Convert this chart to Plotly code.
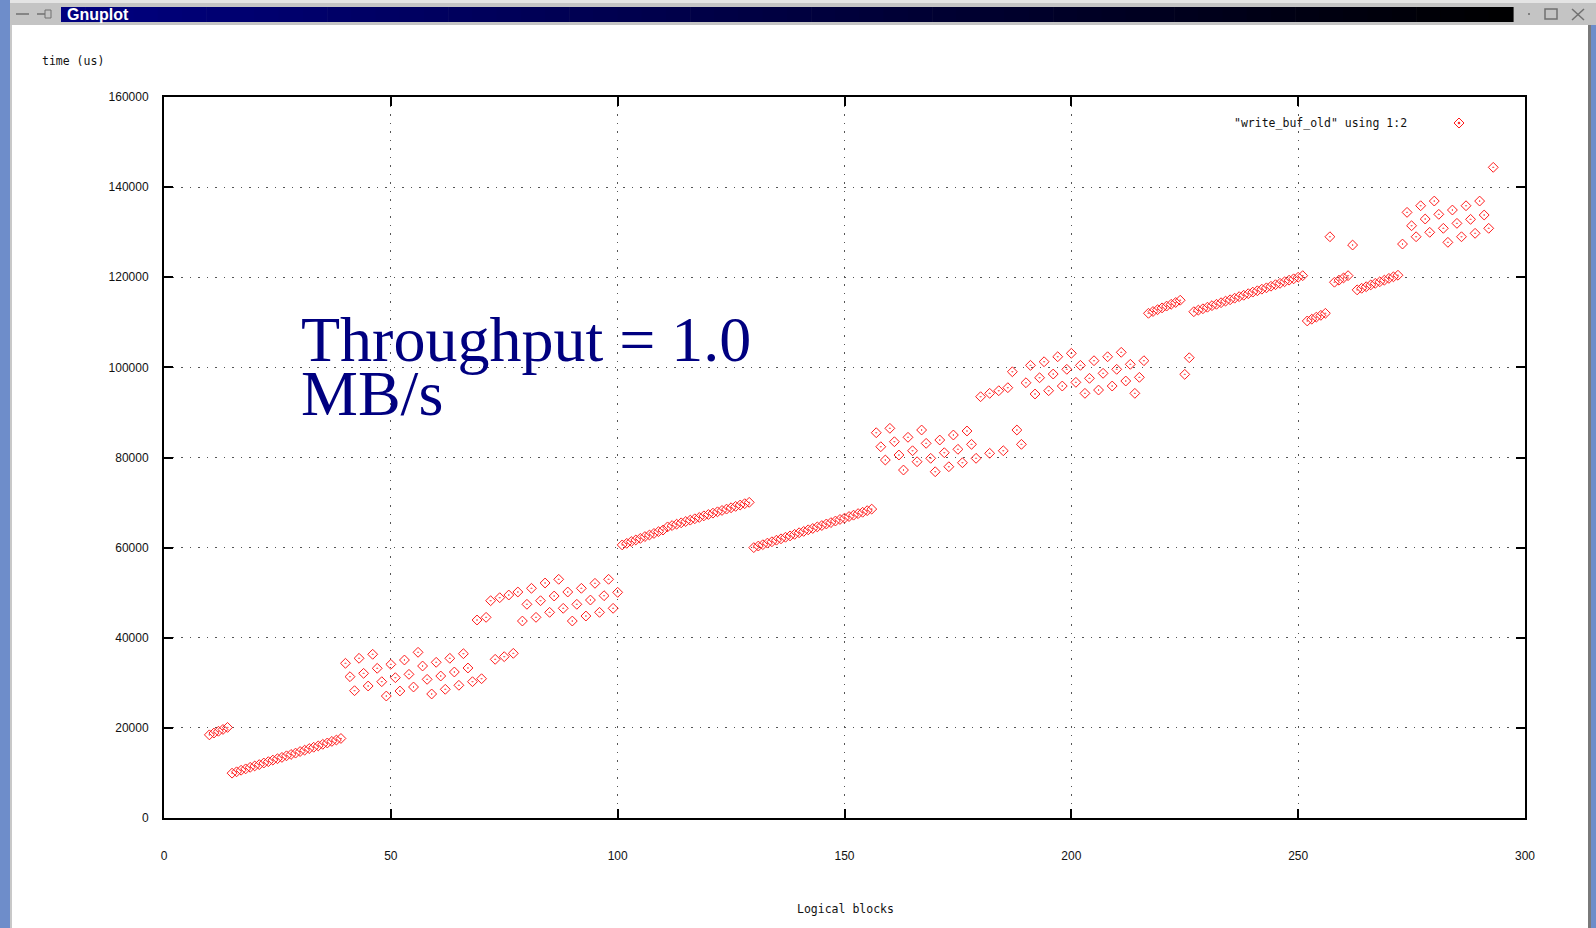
import plotly.graph_objects as go

# ---------------- data ----------------
blocks_a = [10, 11, 12, 13, 14]
time_a = [18450, 18850, 19250, 19650, 20100]

blocks_b = [15, 16, 17, 18, 19, 20, 21, 22, 23, 24, 25, 26, 27, 28, 29, 30, 31, 32, 33, 34, 35, 36, 37, 38, 39]
time_b = [9950, 10250, 10600, 10900, 11250, 11550, 11850, 12200, 12500, 12850, 13150, 13450, 13800, 14100,
          14400, 14750, 15050, 15400, 15700, 16000, 16350, 16650, 17000, 17300, 17650]

blocks_c_low = [40, 43, 46, 50, 53, 56, 60, 63, 66,
                41, 44, 47, 51, 54, 57, 58, 61, 64, 67,
                42, 45, 48, 49, 52, 55, 59, 62, 65, 68, 70,
                73, 75, 77]
time_c_low = [34330, 35440, 36330, 34100, 35060, 36770, 34550, 35440, 36460,
              31360, 32100, 33220, 31140, 31880, 33730, 30770, 31510, 32400, 33290,
              28250, 29290, 30250, 27070, 28180, 29070, 27520, 28560, 29450, 30250, 30910,
              35210, 35800, 36540]

blocks_c_high = [69, 71, 72, 74, 76, 78, 81, 84, 87,
                 80, 83, 86, 89, 92, 95, 98,
                 79, 82, 85, 88, 91, 94, 97, 100,
                 90, 93, 96, 99]
time_c_high = [43940, 44530, 48220, 48890, 49480, 50150, 50970, 52150, 52970,
               47420, 48220, 49260, 50150, 50970, 52080, 52970,
               43710, 44530, 45640, 46530, 47420, 48370, 49330, 50080,
               43710, 44820, 45640, 46530]

blocks_d = [101, 102, 103, 104, 105, 106, 107, 108, 109, 110,
            111, 112, 113, 114, 115, 116, 117, 118, 119, 120, 121, 122, 123, 124, 125, 126, 127, 128, 129]
time_d = [60600, 60950, 61350, 61700, 62050, 62450, 62800, 63150, 63550, 63900,
          64600, 64900, 65200, 65500, 65800, 66100, 66400, 66700, 67050, 67350, 67650, 67950, 68250,
          68550, 68850, 69150, 69450, 69750, 70050]

blocks_e = [130, 131, 132, 133, 134, 135, 136, 137, 138, 139, 140, 141, 142, 143, 144, 145, 146, 147,
            148, 149, 150, 151, 152, 153, 154, 155, 156]
time_e = [60000, 60350, 60650, 61000, 61300, 61650, 61950, 62300, 62600, 62950, 63300, 63600, 63950,
          64250, 64600, 64900, 65250, 65550, 65900, 66250, 66550, 66900, 67200, 67550, 67850, 68200, 68550]

blocks_f = [157, 160, 167, 177, 188,
            158, 161, 164, 171, 174, 168, 178,
            159, 162, 165, 175, 169, 172, 179, 182, 185,
            163, 166, 170, 173, 176, 189]
time_f = [85500, 86470, 86100, 85880, 86100,
          82390, 83500, 84480, 83880, 84990, 83140, 82920,
          79440, 80550, 81500, 81820, 79820, 81060, 79820, 80930, 81500,
          77220, 79060, 76840, 77950, 78840, 82920]

blocks_g = [180, 182, 184, 186, 187, 191, 194, 197, 200,
            190, 193, 196, 199, 202, 205, 208, 211,
            192, 195, 198, 201, 204, 207, 210, 213, 216,
            203, 206, 209, 212, 215, 214, 226, 225]
time_g = [93490, 94240, 94820, 95490, 99030, 100450, 101250, 102360, 103120,
          96590, 97700, 98520, 99570, 100450, 101480, 102360, 103340,
          94090, 94820, 95860, 96680, 97570, 98680, 99570, 100680, 101480,
          94240, 94970, 95860, 96970, 97790, 94240, 102140, 98450]

blocks_h = [217, 218, 219, 220, 221, 222, 223, 224]
time_h = [112000, 112400, 112800, 113200, 113600, 114000, 114400, 114900]

blocks_i = [227, 228, 229, 230, 231, 232, 233, 234, 235, 236, 237, 238, 239, 240, 241, 242, 243, 244,
            245, 246, 247, 248, 249, 250, 251]
time_i = [112350, 112700, 113000, 113350, 113700, 114000, 114350, 114700, 115000, 115350, 115700,
          116000, 116350, 116700, 117000, 117350, 117650, 118000, 118350, 118650, 119000, 119350,
          119650, 120000, 120350]

blocks_j = [252, 253, 254, 255, 256, 258, 259, 260, 261]
time_j = [110300, 110700, 111150, 111550, 112000, 118900, 119350, 119850, 120350]

blocks_k = [263, 264, 265, 266, 267, 268, 269, 270, 271, 272]
time_k = [117200, 117550, 117900, 118300, 118650, 119000, 119350, 119750, 120100, 120450]

blocks_l = [257, 262, 273, 274, 277, 280, 275, 278, 281, 284, 287, 290,
            276, 279, 282, 285, 288, 291, 283, 286, 289, 292, 293]
time_l = [128990, 127150, 127370, 134400, 135870, 136910, 131430, 132920, 133960, 134920, 135870, 136910,
          128990, 129970, 130860, 131960, 132850, 133810, 127750, 128990, 129750, 130860, 144390]

x_ticks = [0, 50, 100, 150, 200, 250, 300]
y_ticks = [0, 20000, 40000, 60000, 80000, 100000, 120000, 140000, 160000]
y_tick_text = ["0", "20000", "40000", "60000", "80000", "100000", "120000", "140000", "160000"]
series_name = '"write_buf_old" using 1:2'

all_x = (blocks_a + blocks_b + blocks_c_low + blocks_c_high + blocks_d + blocks_e + blocks_f +
         blocks_g + blocks_h + blocks_i + blocks_j + blocks_k + blocks_l)
all_y = (time_a + time_b + time_c_low + time_c_high + time_d + time_e + time_f +
         time_g + time_h + time_i + time_j + time_k + time_l)

# ---------------- geometry ----------------
W, H = 1596, 928
L, R, T, B = 164, 1525, 97, 818


def px(x):
    return (x - L) / (R - L)


def py(y):
    return (B - y) / (B - T)


RED = "#ff1a1a"

fig = go.Figure()
fig.add_trace(go.Scatter(
    x=all_x, y=all_y, mode="markers", name=series_name, showlegend=False,
    marker=dict(symbol="diamond-open-dot", size=7.6, color=RED, line=dict(width=1, color=RED)),
))

shapes = []
# white-out of the key area (gnuplot does not draw the grid behind the key)
shapes.append(dict(type="rect", xref="paper", yref="paper", x0=px(1000), x1=px(R - 1), y0=py(143), y1=py(T + 1),
                   fillcolor="white", line=dict(width=0), layer="between"))
# key sample symbol
kx, ky = px(1459), py(123)
shapes.append(dict(type="path", xref="paper", yref="paper", xsizemode="pixel", ysizemode="pixel",
                   xanchor=kx, yanchor=ky, path="M -5 0 L 0 5 L 5 0 L 0 -5 Z",
                   line=dict(color=RED, width=1), fillcolor="rgba(0,0,0,0)"))
shapes.append(dict(type="path", xref="paper", yref="paper", xsizemode="pixel", ysizemode="pixel",
                   xanchor=kx, yanchor=ky, path="M -0.7 -0.7 L 0.7 -0.7 L 0.7 0.7 L -0.7 0.7 Z",
                   line=dict(color=RED, width=1), fillcolor=RED))


def prect(x0, y0, x1, y1, color):
    shapes.append(dict(type="rect", xref="paper", yref="paper", x0=px(x0), x1=px(x1), y0=py(y1), y1=py(y0),
                       fillcolor=color, line=dict(width=0), layer="above"))


# window frame decoration
prect(0, 0, 10, H, "#6e8dca")
prect(10, 0, 1596, 3, "#e4e4e4")
prect(10, 3, 1596, 25, "#c4c4c4")
prect(10, 25, 12, H, "#c8c8c8")
prect(1588, 25, 1591, H, "#7a7a7a")
prect(1591, 25, 1596, H, "#6e8dca")
# title-bar gradient (navy -> black)
gx0, gx1, nseg = 61, 1513, 60
for i in range(nseg):
    a = gx0 + (gx1 - gx0) * i / nseg
    b = gx0 + (gx1 - gx0) * (i + 1) / nseg + 0.6
    blue = int(round(128 * (1 - (i + 0.5) / nseg)))
    prect(a, 7, b, 22, "rgb(0,0,%d)" % blue)
# title-bar buttons
shapes.append(dict(type="line", xref="paper", yref="paper", x0=px(16), x1=px(29), y0=py(14), y1=py(14),
                   line=dict(color="#707070", width=1.5), layer="above"))
shapes.append(dict(type="line", xref="paper", yref="paper", x0=px(37), x1=px(45), y0=py(14), y1=py(14),
                   line=dict(color="#707070", width=1.5), layer="above"))
shapes.append(dict(type="rect", xref="paper", yref="paper", x0=px(45), x1=px(51), y0=py(18), y1=py(10),
                   line=dict(color="#707070", width=1), layer="above"))
shapes.append(dict(type="rect", xref="paper", yref="paper", x0=px(1528), x1=px(1530), y0=py(15), y1=py(13),
                   fillcolor="#808080", line=dict(width=0), layer="above"))
shapes.append(dict(type="rect", xref="paper", yref="paper", x0=px(1545), x1=px(1557), y0=py(19), y1=py(9),
                   line=dict(color="#707070", width=1.5), layer="above"))
shapes.append(dict(type="line", xref="paper", yref="paper", x0=px(1572), x1=px(1584), y0=py(9), y1=py(20),
                   line=dict(color="#707070", width=1.5), layer="above"))
shapes.append(dict(type="line", xref="paper", yref="paper", x0=px(1572), x1=px(1584), y0=py(20), y1=py(9),
                   line=dict(color="#707070", width=1.5), layer="above"))

mono = "DejaVu Sans Mono"
annotations = [
    dict(text="Gnuplot", xref="paper", yref="paper", x=px(65), y=py(14.5), xanchor="left", yanchor="middle",
         showarrow=False, font=dict(family="Liberation Sans", size=16, color="white", weight="bold")),
    dict(text="time (us)", xref="paper", yref="paper", x=px(40), y=py(61), xanchor="left", yanchor="middle",
         showarrow=False, font=dict(family=mono, size=11.5, color="#111")),
    dict(text="Logical blocks", xref="paper", yref="paper", x=px(845), y=py(909), xanchor="center",
         yanchor="middle", showarrow=False, font=dict(family=mono, size=11.5, color="#111")),
    dict(text=series_name, xref="paper", yref="paper", x=px(1409), y=py(123), xanchor="right",
         yanchor="middle", showarrow=False, font=dict(family=mono, size=11.5, color="#111")),
    dict(text="Throughput = 1.0", xref="paper", yref="paper", x=px(299), y=py(302), xanchor="left",
         yanchor="top", showarrow=False, font=dict(family="Liberation Serif", size=64, color="#000080")),
    dict(text="MB/s", xref="paper", yref="paper", x=px(299), y=py(356), xanchor="left",
         yanchor="top", showarrow=False, font=dict(family="Liberation Serif", size=64, color="#000080")),
]

axis_common = dict(
    showgrid=True, gridcolor="#555555", gridwidth=1, griddash="1.5px,7px",
    showline=True, linecolor="black", linewidth=2, mirror="ticks",
    ticks="inside", ticklen=9, tickwidth=1.5, tickcolor="black", zeroline=False,
    tickfont=dict(family="Liberation Sans", size=12, color="#111"),
)

fig.update_layout(
    width=W, height=H, autosize=False,
    margin=dict(l=L, r=W - R, t=T, b=H - B, pad=0),
    paper_bgcolor="white", plot_bgcolor="white",
    xaxis=dict(range=[0, 300], tickmode="array", tickvals=x_ticks, ticklabelstandoff=26, **axis_common),
    yaxis=dict(range=[0, 160000], tickmode="array", tickvals=y_ticks, ticktext=y_tick_text,
               ticklabelstandoff=11, **axis_common),
    shapes=shapes, annotations=annotations, showlegend=False,
)

fig.write_html("out.html", config={"displayModeBar": False},
               post_script="document.body.style.margin='0';document.body.style.overflow='hidden';")
